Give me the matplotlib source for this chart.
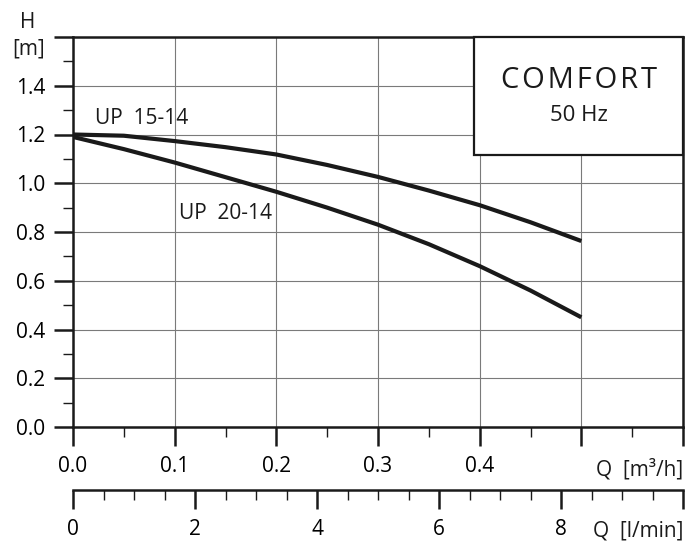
import numpy as np
import matplotlib
matplotlib.use('Agg')
import matplotlib.pyplot as plt
from matplotlib.patches import Rectangle
from matplotlib.ticker import MultipleLocator, FixedLocator

plt.rcParams['font.family'] = ['Open Sans', 'DejaVu Sans']

# pump curves, Q in m3/h, H in m
q = [0.0, 0.05, 0.1, 0.15, 0.2, 0.25, 0.3, 0.35, 0.4, 0.45, 0.5]
h_up15 = [1.20, 1.195, 1.173, 1.148, 1.118, 1.075, 1.026, 0.970, 0.910, 0.840, 0.763]
h_up20 = [1.19, 1.140, 1.085, 1.025, 0.965, 0.900, 0.830, 0.750, 0.660, 0.560, 0.450]

x_ticks = [0.0, 0.1, 0.2, 0.3, 0.4, 0.5, 0.6]
x_labels = ['0.0', '0.1', '0.2', '0.3', '0.4', '', '']
y_ticks = [0.0, 0.2, 0.4, 0.6, 0.8, 1.0, 1.2, 1.4, 1.6]
y_labels = ['0.0', '0.2', '0.4', '0.6', '0.8', '1.0', '1.2', '1.4', '']
lmin_ticks = [0, 2, 4, 6, 8, 10]
lmin_labels = ['0', '2', '4', '6', '8', '']

INK = '#1a1a1a'
FS = 15

W, H = 686, 544
fig = plt.figure(figsize=(W / 100, H / 100), dpi=100)
ax = fig.add_axes([73 / W, (H - 427) / H, 610 / W, 390 / H])

ax.set_xlim(0, 0.6)
ax.set_ylim(0, 1.6)
ax.grid(True, which='major', color='#7a7a7a', linewidth=0.8, zorder=0)

ax.plot(q, h_up15, color=INK, linewidth=3.0, solid_capstyle='butt', zorder=3)
ax.plot(q, h_up20, color=INK, linewidth=3.0, solid_capstyle='butt', zorder=3)

ax.text(0.022, 1.266, 'UP  15-14', fontsize=FS, va='center', ha='left', color=INK)
ax.text(0.104, 0.877, 'UP  20-14', fontsize=FS, va='center', ha='left', color=INK)

# COMFORT box in the upper right corner
box = Rectangle((0.3947, 1.115), 0.6 - 0.3947, 1.6 - 1.115, facecolor='white',
                edgecolor=INK, linewidth=1.6, zorder=4, clip_on=False)
ax.add_patch(box)
ax.text(0.4974, 1.420, '\u200a'.join('COMFORT'), fontsize=21, ha='center', va='center',
        color=INK, zorder=5)
ax.text(0.4974, 1.277, '50 Hz', fontsize=16, ha='center', va='center', color=INK, zorder=5)

for s in ax.spines.values():
    s.set_linewidth(1.8)
    s.set_color(INK)

ax.xaxis.set_major_locator(FixedLocator(x_ticks))
ax.set_xticklabels(x_labels)
ax.xaxis.set_minor_locator(MultipleLocator(0.05))
ax.yaxis.set_major_locator(FixedLocator(y_ticks))
ax.set_yticklabels(y_labels)
ax.yaxis.set_minor_locator(MultipleLocator(0.1))
ax.tick_params(axis='x', which='major', direction='out', length=14, width=1.8, pad=7,
               labelsize=FS, color=INK)
ax.tick_params(axis='x', which='minor', direction='out', length=7, width=1.0, color=INK)
ax.tick_params(axis='y', which='major', direction='out', length=14, width=1.8, pad=6,
               labelsize=FS, color=INK)
ax.tick_params(axis='y', which='minor', direction='out', length=7, width=1.0, color=INK)

fig.text(683 / W, 1 - 470 / H, 'Q  [m³/h]', fontsize=FS, ha='right', va='center', color=INK)
fig.text(28 / W, 1 - 22 / H, 'H', fontsize=FS, ha='center', va='center', color=INK)
fig.text(45 / W, 1 - 49 / H, '[m]', fontsize=FS, ha='right', va='center', color=INK)

# second scale in l/min
ax2 = fig.add_axes([73 / W, (H - 490) / H, 610 / W, 0.0001])
ax2.set_xlim(0, 10)
ax2.set_yticks([])
for k in ['top', 'left', 'right']:
    ax2.spines[k].set_visible(False)
ax2.spines['bottom'].set_linewidth(1.8)
ax2.spines['bottom'].set_color(INK)
ax2.xaxis.set_major_locator(FixedLocator(lmin_ticks))
ax2.set_xticklabels(lmin_labels)
ax2.xaxis.set_minor_locator(MultipleLocator(0.5))
ax2.tick_params(axis='x', which='major', direction='out', length=14, width=1.8, pad=7,
                labelsize=FS, color=INK)
ax2.tick_params(axis='x', which='minor', direction='out', length=7, width=1.0, color=INK)
fig.text(683 / W, 1 - 531 / H, 'Q  [l/min]', fontsize=FS, ha='right', va='center', color=INK)

fig.savefig('out.png', dpi=100)
